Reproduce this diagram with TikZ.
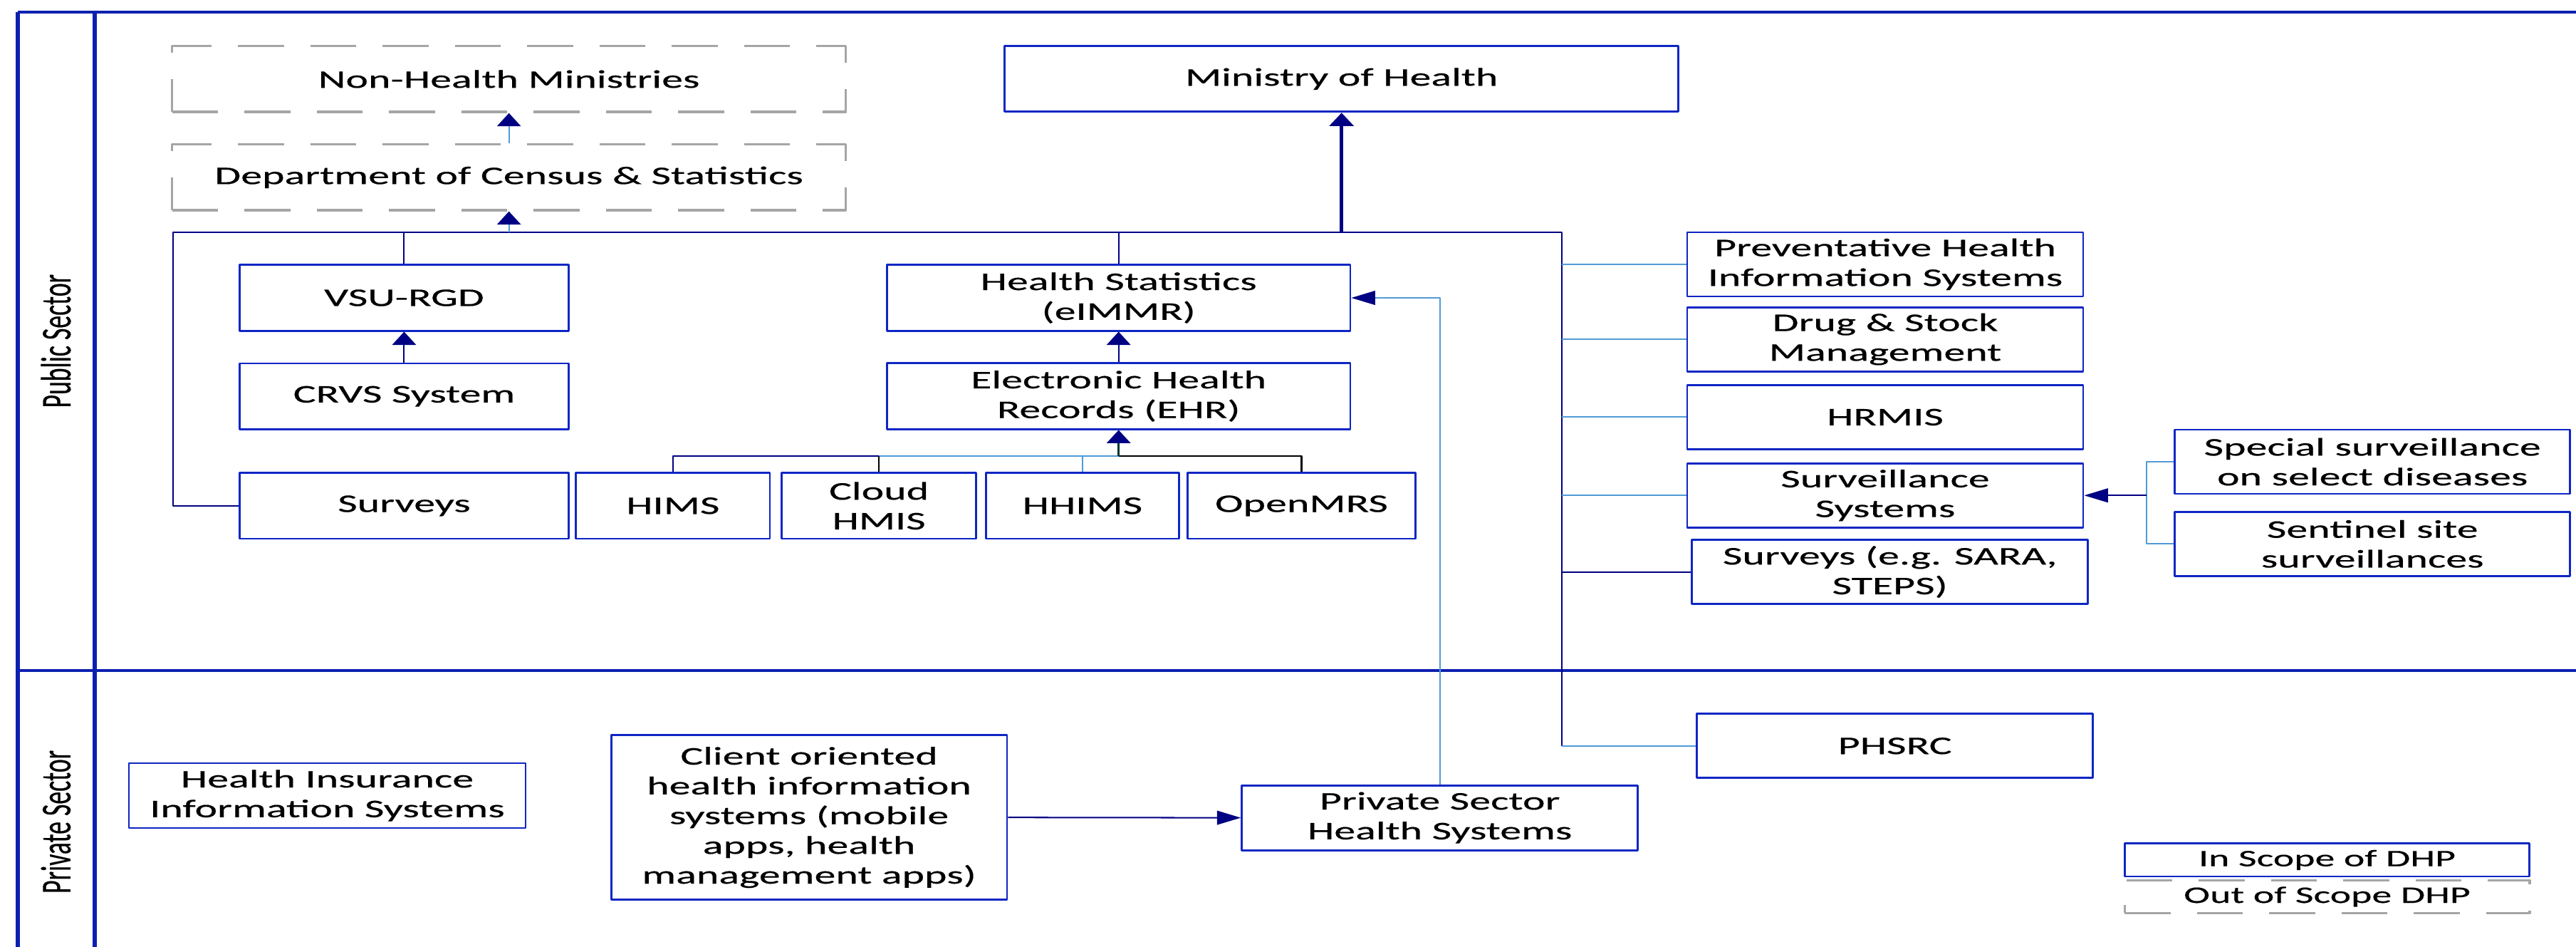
\documentclass[tikz,border=0pt]{standalone}
\usepackage{graphicx}
\usepackage{fontspec}
\setmainfont{Carlito}[FakeStretch=1.68,FakeBold=0.4]
\newfontfamily\sidefont{Carlito}[FakeBold=0.4]
\usetikzlibrary{arrows.meta}
\definecolor{boxblue}{RGB}{14,38,196}
\definecolor{navy}{RGB}{0,0,130}
\definecolor{lineblue}{RGB}{80,155,215}
\definecolor{outgray}{RGB}{165,165,165}
\definecolor{framecol}{RGB}{12,32,175}

\begin{document}
\begin{tikzpicture}[x=0.2mm,y=-0.2mm,line join=round,font={\fontsize{8.8}{10.3}\selectfont},
		sys/.style={draw=boxblue,line width=0.7pt,align=center,inner sep=0pt,minimum height=8mm},
		outsys/.style={draw=outgray,line width=0.8pt,dash pattern=on 5.6mm off 3.2mm,align=center,inner sep=0pt,minimum height=8mm},
		link/.style={lineblue,line width=0.5pt},
		navylink/.style={navy,line width=0.5pt},
		vtip/.style={-{Triangle[length=1.6mm,width=2.9mm,color=navy]}},
		htip/.style={-{Triangle[length=2.9mm,width=1.7mm,color=navy]}},
		frame/.style={framecol,line width=0.9pt}]
				\useasboundingbox (0,0) rectangle (1568,576);
				% sector frame
				\draw[frame,line width=1.4pt] (10.8,576) -- (10.8,7.3) (57.8,576) -- (57.8,7.3);
				\draw[frame] (10.8,7.3) -- (1568,7.3) (10.8,407.8) -- (1568,407.8);
				\node[rotate=90] (public) at (34,207.5) {\sidefont\scalebox{1}[1.68]{Public Sector}};
				\node[rotate=90] (private) at (34,500) {\sidefont\scalebox{1}[1.68]{Private Sector}};
				% public sector
				\node[outsys,minimum width=82mm] (nonhealth) at (309.8,48.1) {Non-Health Ministries};
				\node[outsys,minimum width=82mm] (census) at (309.8,107.9) {Department of Census \& Statistics};
				\node[sys,minimum width=82mm] (moh) at (816.6,48) {Ministry of Health};
				\node[sys,minimum width=40mm] (vsu) at (246,181.2) {VSU-RGD};
				\node[sys,minimum width=40mm] (crvs) at (246,241.1) {CRVS System};
				\node[sys,minimum width=40mm] (surveys) at (246,307.7) {Surveys};
				\node[sys,minimum width=23.6mm] (hims) at (409.6,307.7) {HIMS};
				\node[sys,minimum width=23.7mm] (cloud) at (535,307.7) {Cloud\\HMIS};
				\node[sys,minimum width=23.5mm] (hhims) at (658.9,307.7) {HHIMS};
				\node[sys,minimum width=27.7mm] (openmrs) at (792.2,307.7) {OpenMRS};
				\node[sys,minimum width=56.4mm] (hstat) at (680.9,181.2) {Health Statistics\\(eIMMR)};
				\node[sys,minimum width=56.4mm] (ehr) at (680.9,241) {Electronic Health\\Records (EHR)};
				\node[sys,minimum width=48.2mm,minimum height=7.8mm] (prev) at (1147.5,160.8) {Preventative Health\\Information Systems};
				\node[sys,minimum width=48.2mm,minimum height=7.8mm] (drug) at (1147.5,206.4) {Drug \& Stock\\Management};
				\node[sys,minimum width=48.2mm,minimum height=7.8mm] (hrmis) at (1147.5,253.8) {HRMIS};
				\node[sys,minimum width=48.2mm,minimum height=7.8mm] (surv) at (1147.5,301.4) {Surveillance\\Systems};
				\node[sys,minimum width=48.2mm,minimum height=7.8mm] (survey2) at (1150.4,347.9) {Surveys (e.g. SARA,\\STEPS)};
				\node[sys,minimum width=48.1mm,minimum height=7.8mm] (special) at (1444.1,280.9) {Special surveillance\\on select diseases};
				\node[sys,minimum width=48.1mm,minimum height=7.8mm] (sentinel) at (1444.1,330.9) {Sentinel site\\surveillances};
				% private sector
				\node[sys,minimum width=48.2mm,minimum height=7.8mm] (phsrc) at (1153.4,453.8) {PHSRC};
				\node[sys,minimum width=48.3mm,minimum height=7.9mm] (insur) at (199.2,484) {Health Insurance\\Information Systems};
				\node[sys,minimum width=48.2mm,minimum height=20mm] (client) at (492.5,497.3) {Client oriented\\health information\\systems (mobile\\apps, health\\management apps)};
				\node[sys,minimum width=48.2mm,minimum height=7.9mm] (pshs) at (876.4,497.5) {Private Sector\\Health Systems};
				\node[sys,minimum width=49.3mm,minimum height=4mm,font={\fontsize{8.2}{9.6}\selectfont}] (inscope) at (1416.5,523.2) {In Scope of DHP};
				\node[outsys,minimum width=49.3mm,minimum height=4mm,font={\fontsize{8.2}{9.6}\selectfont}] (outscope) at (1416.5,545.5) {Out of Scope DHP};
				% connectors
				\coordinate (busL) at (105.2,141.3);
				\coordinate (busR) at (950.8,141.3);
				\coordinate (ehrbus) at (680.9,277.5);
				\coordinate (survbus) at (1306.6,301.4);
				\draw[navylink] (surveys.west) -| (busL) -- (busR) -- (busR |- phsrc.west);
				\draw[link] (busR |- phsrc.west) -- (phsrc.west);
				\draw[navylink] (vsu.north) -- (vsu.north |- busL);
				\draw[navylink] (hstat.north) -- (hstat.north |- busL);
				\draw[link,vtip] (census.south |- busL) -- (census.south);
				\draw[link,vtip] (census.north) -- (nonhealth.south);
				\draw[navy,line width=1.3pt,vtip] (moh.south |- busL) -- (moh.south);
				\draw[navylink,vtip] (crvs.north) -- (vsu.south);
				\draw[navylink,vtip] (ehr.north) -- (hstat.south);
				\foreach \n in {prev,drug,hrmis,surv}
				\draw[link] (busR |- \n.west) -- (\n.west);
				\draw[navylink] (busR |- survey2.west) -- (survey2.west);
				\draw[navylink] (hims.north) |- (cloud.north |- ehrbus);
				\draw[link] (cloud.north |- ehrbus) -- (ehrbus);
				\draw[line width=0.6pt] (cloud.north) -- (cloud.north |- ehrbus);
				\draw[link] (hhims.north) -- (hhims.north |- ehrbus);
				\draw[line width=0.6pt] (ehrbus) -| (openmrs.north);
				\draw[black!60!teal,line width=0.6pt,vtip] (ehrbus) -- (ehr.south);
				\draw[link] (special.west) -| (survbus |- sentinel.west) -- (sentinel.west);
				\draw[navylink,htip] (survbus) -- (surv.east);
				\draw[link,htip] (pshs.north) |- (hstat.east);
				\draw[navylink,htip] (client.east) -- (pshs.west);
		\end{tikzpicture}
\end{document}
